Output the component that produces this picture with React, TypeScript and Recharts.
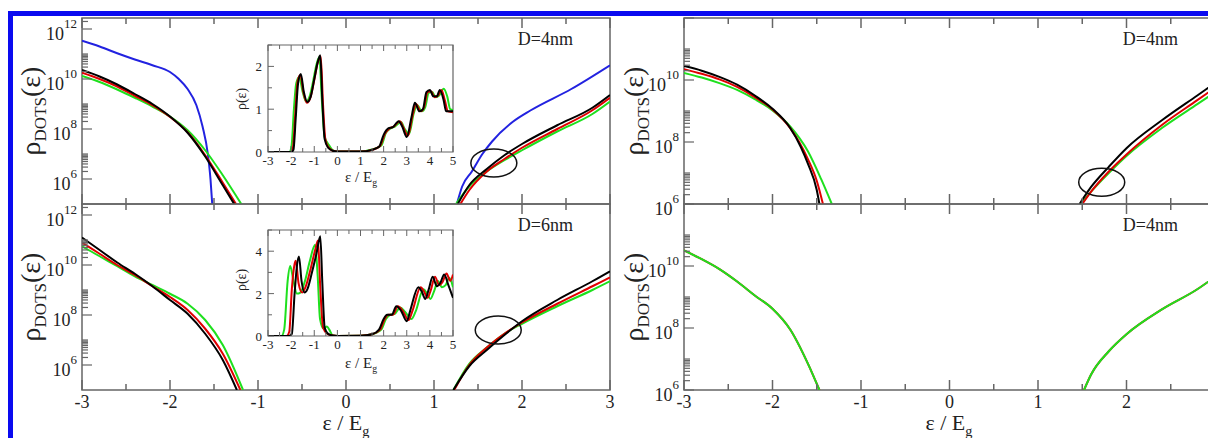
import { LineChart, Line, XAxis, YAxis, ReferenceArea, ReferenceDot } from 'recharts'

const SERIF = '"Liberation Serif", "Times New Roman", serif'
const FRAME = '#666'
const INK = '#222'
const BLACK = '#000000'
const RED = '#e00000'
const GREEN = '#1ee01e'
const BLUE = '#2222e0'

// tick values
const mainXTicks = [-3, -2.5, -2, -1.5, -1, -0.5, 0, 0.5, 1, 1.5, 2, 2.5, 3]
const insetXTicks = [-3, -2.5, -2, -1.5, -1, -0.5, 0, 0.5, 1, 1.5, 2, 2.5, 3, 3.5, 4, 4.5, 5]
const majorExp = [6, 8, 10, 12]
const leftLabeledExp = [6, 8, 10, 12]
const rightLabeledExp = [6, 8, 10]
const insetATicks = [0, 0.5, 1, 1.5, 2, 2.5]
const insetBTicks = [0, 1, 2, 3, 4, 5]

// [ε/Eg, log10 ρ] — top left, D=4nm
const aBlueVal = [[-3, 11.53], [-2.8, 11.3], [-2.6, 11.03], [-2.4, 10.78], [-2.2, 10.55], [-2.0, 10.28], [-1.9, 10.0], [-1.8, 9.6], [-1.7, 8.95], [-1.63, 8.1], [-1.57, 7.0], [-1.54, 6.0], [-1.52, 5.0]]
const aBlackVal = [[-3, 10.36], [-2.8, 10.1], [-2.6, 9.78], [-2.4, 9.4], [-2.2, 9.0], [-2.0, 8.5], [-1.8, 7.85], [-1.6, 6.9], [-1.4, 5.75], [-1.27, 5.0]]
const aRedVal = [[-3, 10.25], [-2.8, 10.0], [-2.6, 9.7], [-2.4, 9.33], [-2.2, 8.95], [-2.0, 8.48], [-1.8, 7.87], [-1.6, 6.95], [-1.4, 5.85], [-1.25, 5.0]]
const aGreenVal = [[-3, 10.12], [-2.8, 9.88], [-2.6, 9.58], [-2.4, 9.25], [-2.2, 8.9], [-2.0, 8.5], [-1.8, 7.95], [-1.6, 7.15], [-1.4, 6.15], [-1.19, 5.0]]
const aBlueCond = [[1.26, 5.0], [1.32, 5.7], [1.43, 6.3], [1.55, 7.0], [1.66, 7.5], [1.9, 8.3], [2.1, 8.75], [2.56, 9.6], [3.0, 10.55]]
const aBlackCond = [[1.27, 5.0], [1.4, 5.75], [1.6, 6.4], [1.8, 6.95], [2.0, 7.4], [2.4, 8.15], [2.8, 8.85], [3.0, 9.36]]
const aRedCond = [[1.3, 5.0], [1.4, 5.55], [1.6, 6.3], [1.8, 6.8], [2.0, 7.25], [2.4, 8.0], [2.8, 8.75], [3.0, 9.25]]
const aGreenCond = [[1.25, 5.0], [1.4, 5.7], [1.6, 6.3], [1.8, 6.75], [2.0, 7.15], [2.4, 7.9], [2.8, 8.6], [3.0, 9.1]]
const aRing = [1.68, 6.64]

// bottom left, D=6nm
const bBlackVal = [[-3, 11.1], [-2.8, 10.6], [-2.6, 10.1], [-2.4, 9.65], [-2.2, 9.15], [-2.0, 8.6], [-1.8, 8.05], [-1.6, 7.25], [-1.4, 6.2], [-1.24, 5.0]]
const bRedVal = [[-3, 10.9], [-2.8, 10.45], [-2.6, 10.0], [-2.4, 9.6], [-2.2, 9.15], [-2.0, 8.72], [-1.8, 8.2], [-1.6, 7.45], [-1.4, 6.45], [-1.2, 5.0]]
const bGreenVal = [[-3, 10.75], [-2.8, 10.35], [-2.6, 9.95], [-2.4, 9.55], [-2.2, 9.2], [-2.0, 8.85], [-1.8, 8.45], [-1.6, 7.8], [-1.4, 6.8], [-1.17, 5.0]]
const bBlackCond = [[1.22, 5.0], [1.4, 5.95], [1.6, 6.6], [1.8, 7.2], [2.0, 7.75], [2.4, 8.6], [2.8, 9.35], [3.0, 9.75]]
const bRedCond = [[1.23, 5.0], [1.4, 6.0], [1.6, 6.7], [1.8, 7.25], [2.0, 7.7], [2.4, 8.45], [2.8, 9.15], [3.0, 9.5]]
const bGreenCond = [[1.22, 5.0], [1.4, 6.05], [1.6, 6.7], [1.8, 7.25], [2.0, 7.65], [2.4, 8.35], [2.8, 9.0], [3.0, 9.35]]
const bRing = [1.73, 7.4]

// top right, D=4nm
const cBlackVal = [[-3, 10.45], [-2.8, 10.3], [-2.6, 10.1], [-2.4, 9.85], [-2.2, 9.5], [-2.0, 9.07], [-1.8, 8.45], [-1.68, 7.84], [-1.6, 7.3], [-1.5, 6.45], [-1.47, 6.0]]
const cRedVal = [[-3, 10.35], [-2.8, 10.2], [-2.6, 10.02], [-2.4, 9.78], [-2.2, 9.45], [-2.0, 9.05], [-1.8, 8.45], [-1.6, 7.45], [-1.5, 6.75], [-1.43, 6.0]]
const cGreenVal = [[-3, 10.23], [-2.8, 10.08], [-2.6, 9.9], [-2.4, 9.68], [-2.2, 9.38], [-2.0, 9.02], [-1.8, 8.5], [-1.6, 7.7], [-1.45, 6.8], [-1.33, 6.0]]
const cBlackCond = [[1.47, 6.0], [1.6, 6.55], [1.8, 7.2], [2.0, 7.8], [2.4, 8.7], [2.8, 9.5], [3.0, 9.9]]
const cRedCond = [[1.5, 6.0], [1.6, 6.4], [1.8, 7.05], [2.0, 7.6], [2.4, 8.55], [2.8, 9.35], [3.0, 9.75]]
const cGreenCond = [[1.48, 6.0], [1.6, 6.4], [1.8, 7.0], [2.0, 7.55], [2.4, 8.45], [2.8, 9.22], [3.0, 9.6]]
const cRing = [1.72, 6.7]

// bottom right, D=4nm (red and green coincide)
const dVal = [[-3, 10.5], [-2.8, 10.22], [-2.6, 9.9], [-2.4, 9.5], [-2.2, 9.05], [-2.0, 8.62], [-1.8, 7.95], [-1.6, 6.85], [-1.47, 6.0]]
const dCond = [[1.52, 6.0], [1.6, 6.5], [1.8, 7.25], [2.0, 7.8], [2.4, 8.6], [2.8, 9.25], [3.0, 9.65]]

// insets [ε/Eg, ρ]
const insetABlack = [[-3, 0], [-2.0, 0], [-1.9, 0.05], [-1.8, 0.8], [-1.7, 1.6], [-1.58, 1.82], [-1.45, 1.4], [-1.3, 1.17], [-1.15, 1.3], [-1.0, 1.7], [-0.85, 2.1], [-0.74, 2.26], [-0.65, 1.2], [-0.55, 0.3], [-0.4, 0.1], [-0.2, 0.03], [0, 0.01], [1, 0.01], [1.5, 0.05], [1.8, 0.12], [2.0, 0.4], [2.2, 0.55], [2.4, 0.58], [2.65, 0.72], [2.8, 0.6], [3.0, 0.35], [3.2, 0.8], [3.35, 1.15], [3.55, 0.95], [3.7, 1.0], [3.85, 1.4], [4.0, 1.45], [4.15, 1.3], [4.3, 1.3], [4.43, 1.45], [4.6, 1.2], [4.7, 0.95], [5.0, 0.95]]
const insetARed = [[-3, 0], [-2.0, 0], [-1.92, 0.1], [-1.82, 0.9], [-1.72, 1.65], [-1.6, 1.8], [-1.47, 1.4], [-1.32, 1.15], [-1.15, 1.3], [-1.0, 1.68], [-0.85, 2.08], [-0.72, 2.24], [-0.62, 1.1], [-0.52, 0.3], [-0.4, 0.12], [-0.2, 0.03], [0, 0.01], [1, 0.01], [1.5, 0.05], [1.85, 0.14], [2.05, 0.42], [2.25, 0.55], [2.45, 0.6], [2.7, 0.72], [2.85, 0.58], [3.05, 0.38], [3.25, 0.85], [3.4, 1.12], [3.6, 0.95], [3.75, 1.05], [3.9, 1.4], [4.05, 1.42], [4.2, 1.28], [4.35, 1.32], [4.5, 1.45], [4.65, 1.2], [4.78, 0.95], [5.0, 0.93]]
const insetAGreen = [[-3, 0], [-2.08, 0], [-1.98, 0.15], [-1.88, 1.0], [-1.78, 1.6], [-1.65, 1.75], [-1.5, 1.4], [-1.35, 1.18], [-1.2, 1.3], [-1.05, 1.65], [-0.9, 2.05], [-0.78, 2.22], [-0.68, 1.3], [-0.55, 0.35], [-0.35, 0.15], [-0.2, 0.04], [0, 0.01], [1, 0.01], [1.5, 0.06], [1.9, 0.15], [2.1, 0.45], [2.3, 0.55], [2.5, 0.6], [2.75, 0.7], [2.9, 0.55], [3.1, 0.42], [3.3, 0.9], [3.45, 1.1], [3.65, 0.95], [3.8, 1.05], [3.95, 1.38], [4.1, 1.4], [4.25, 1.28], [4.4, 1.32], [4.6, 1.48], [4.75, 1.3], [4.88, 1.0], [5.0, 0.98]]

const insetBBlack = [[-3, 0], [-2.1, 0], [-1.97, 0.1], [-1.85, 2.0], [-1.75, 3.3], [-1.66, 3.75], [-1.55, 2.6], [-1.42, 2.05], [-1.3, 2.2], [-1.1, 3.0], [-0.9, 3.9], [-0.74, 4.7], [-0.65, 2.5], [-0.55, 0.4], [-0.4, 0.1], [-0.2, 0.02], [0, 0], [1, 0.01], [1.5, 0.08], [1.8, 0.3], [2.0, 0.8], [2.15, 1.0], [2.35, 1.0], [2.55, 1.4], [2.75, 1.2], [3.0, 0.7], [3.15, 1.2], [3.5, 2.3], [3.65, 2.1], [3.8, 1.75], [3.95, 2.2], [4.12, 2.8], [4.3, 2.35], [4.45, 2.5], [4.62, 2.9], [4.8, 2.4], [5.0, 1.8]]
const insetBRed = [[-3, 0], [-2.2, 0], [-2.08, 0.2], [-1.97, 2.2], [-1.85, 3.4], [-1.8, 3.55], [-1.68, 2.5], [-1.52, 2.05], [-1.38, 2.3], [-1.15, 3.2], [-0.95, 4.1], [-0.84, 4.5], [-0.74, 2.3], [-0.62, 0.4], [-0.45, 0.12], [-0.2, 0.02], [0, 0], [1, 0.01], [1.5, 0.08], [1.85, 0.3], [2.05, 0.8], [2.2, 1.0], [2.4, 1.0], [2.62, 1.4], [2.82, 1.2], [3.08, 0.75], [3.25, 1.2], [3.6, 2.3], [3.75, 2.1], [3.9, 1.8], [4.05, 2.2], [4.22, 2.8], [4.4, 2.4], [4.55, 2.55], [4.72, 2.95], [4.88, 2.6], [5.0, 2.9]]
const insetBGreen = [[-3, 0], [-2.42, 0], [-2.3, 0.3], [-2.15, 2.6], [-2.04, 3.3], [-1.9, 2.6], [-1.75, 2.0], [-1.6, 2.05], [-1.4, 2.6], [-1.2, 3.5], [-0.96, 4.3], [-0.85, 2.8], [-0.75, 0.8], [-0.6, 0.35], [-0.45, 0.45], [-0.35, 0.3], [-0.2, 0.02], [0, 0], [1, 0.01], [1.5, 0.08], [1.9, 0.3], [2.1, 0.8], [2.28, 1.0], [2.48, 1.05], [2.72, 1.35], [2.92, 1.15], [3.2, 0.8], [3.38, 1.15], [3.72, 2.2], [3.88, 2.0], [4.02, 1.75], [4.18, 2.1], [4.35, 2.6], [4.52, 2.3], [4.68, 2.4], [4.84, 2.75], [5.0, 2.3]]

const logPts = (a: number[][]) => a.map(([x, l]) => ({ x, y: 10 ** l }))
const linPts = (a: number[][]) => a.map(([x, y]) => ({ x, y }))

type Curve = { data: { x: number; y: number }[]; color: string }

function MainPanel({ left, top, w, h, lo, hi, labeled, xLabels, xLabelMax = 3, curves, ring }: {
  left: number; top: number; w: number; h: number; lo: number; hi: number
  labeled: number[]; xLabels: boolean; xLabelMax?: number; curves: Curve[]; ring?: number[]
}) {
  const padL = 80, padT = 12, padR = 12, padB = 30
  const yTicks: number[] = []
  majorExp.forEach(n => {
    for (let k = 1; k <= 10; k++) {
      const v = k * 10 ** n
      if (v >= lo * 0.999 && v <= hi) yTicks.push(v)
    }
  })
  const xTick = (p: any) => {
    const v = p.payload.value
    const major = Number.isInteger(v)
    return (
      <g>
        <line x1={p.x} x2={p.x} y1={p.y} y2={p.y - (major ? 10 : 6)} stroke={FRAME} strokeWidth={1.5} />
        {xLabels && major && v <= xLabelMax && (
          <text x={p.x} y={p.y + 18} textAnchor="middle" fontFamily={SERIF} fontSize={18} fill={INK}>{String(v)}</text>
        )}
      </g>
    )
  }
  const topTick = (p: any) => {
    const major = Number.isInteger(p.payload.value)
    return <line x1={p.x} x2={p.x} y1={p.y} y2={p.y + (major ? 10 : 6)} stroke={FRAME} strokeWidth={1.5} />
  }
  const yTick = (p: any) => {
    const e = Math.log10(p.payload.value)
    const r = Math.round(e)
    const major = Math.abs(e - r) < 1e-6 && r % 2 === 0
    return (
      <g>
        <line x1={p.x} x2={p.x + (major ? 10 : 6)} y1={p.y} y2={p.y} stroke={FRAME} strokeWidth={1.2} />
        {major && labeled.includes(r) && (
          <text x={p.x - 5} y={p.y + 11} textAnchor="end" fontFamily={SERIF} fontSize={18} fill={INK}>
            10<tspan fontSize={13} dy={-12}>{r}</tspan>
          </text>
        )}
      </g>
    )
  }
  return (
    <div style={{ position: 'absolute', left: left - padL, top: top - padT }}>
      <LineChart width={w + padL + padR} height={h + padT + padB} margin={{ top: padT - 1, right: padR, bottom: 0, left: 0 }}>
        <XAxis type="number" dataKey="x" domain={[-3, 3]} ticks={mainXTicks} interval={0} height={padB}
          tickSize={0} tickMargin={0} axisLine={false} tick={xTick} allowDataOverflow />
        <XAxis xAxisId="top" orientation="top" type="number" dataKey="x" domain={[-3, 3]} ticks={mainXTicks} interval={0}
          height={1} tickSize={0} tickMargin={0} axisLine={false} tick={topTick} allowDataOverflow />
        <YAxis type="number" scale="log" domain={[lo, hi]} ticks={yTicks} interval={0} width={padL}
          tickSize={0} tickMargin={0} axisLine={false} tick={yTick} allowDataOverflow />
        <ReferenceArea x1={-3} x2={3} y1={lo} y2={hi} fill="none" stroke={FRAME} strokeWidth={1.5} ifOverflow="visible" />
        {curves.map((c, i) => (
          <Line key={i} data={c.data} dataKey="y" type="monotone" stroke={c.color} strokeWidth={2}
            dot={false} isAnimationActive={false} />
        ))}
        {ring && (
          <ReferenceDot x={ring[0]} y={10 ** ring[1]} r={1}
            shape={(p: any) => <ellipse cx={p.cx} cy={p.cy} rx={23} ry={14} fill="none" stroke="#111" strokeWidth={1.5} />} />
        )}
      </LineChart>
    </div>
  )
}

function Inset({ left, top, w, h, yMax, yTicks, labeled, curves }: {
  left: number; top: number; w: number; h: number; yMax: number; yTicks: number[]; labeled: number[]; curves: Curve[]
}) {
  const padL = 30, padT = 8, padR = 8, padB = 20
  const xTick = (p: any) => {
    const v = p.payload.value
    const major = Number.isInteger(v)
    return (
      <g>
        <line x1={p.x} x2={p.x} y1={p.y} y2={p.y - (major ? 6 : 4)} stroke={FRAME} strokeWidth={1} />
        {major && <text x={p.x} y={p.y + 13} textAnchor="middle" fontFamily={SERIF} fontSize={13} fill={INK}>{String(v)}</text>}
      </g>
    )
  }
  const topTick = (p: any) => {
    const major = Number.isInteger(p.payload.value)
    return <line x1={p.x} x2={p.x} y1={p.y} y2={p.y + (major ? 6 : 4)} stroke={FRAME} strokeWidth={1} />
  }
  const yTick = (p: any) => {
    const v = p.payload.value
    const major = labeled.includes(v)
    return (
      <g>
        <line x1={p.x} x2={p.x + (major ? 6 : 4)} y1={p.y} y2={p.y} stroke={FRAME} strokeWidth={1} />
        {major && <text x={p.x - 6} y={p.y + 5} textAnchor="end" fontFamily={SERIF} fontSize={13} fill={INK}>{String(v)}</text>}
      </g>
    )
  }
  return (
    <div style={{ position: 'absolute', left: left - padL, top: top - padT }}>
      <LineChart width={w + padL + padR} height={h + padT + padB} margin={{ top: padT - 1, right: padR, bottom: 0, left: 0 }}>
        <XAxis type="number" dataKey="x" domain={[-3, 5]} ticks={insetXTicks} interval={0} height={padB}
          tickSize={0} tickMargin={0} axisLine={false} tick={xTick} allowDataOverflow />
        <XAxis xAxisId="top" orientation="top" type="number" dataKey="x" domain={[-3, 5]} ticks={insetXTicks} interval={0}
          height={1} tickSize={0} tickMargin={0} axisLine={false} tick={topTick} allowDataOverflow />
        <YAxis type="number" domain={[0, yMax]} ticks={yTicks} interval={0} width={padL}
          tickSize={0} tickMargin={0} axisLine={false} tick={yTick} allowDataOverflow />
        <ReferenceArea x1={-3} x2={5} y1={0} y2={yMax} fill="#fff" fillOpacity={1} stroke={FRAME} strokeWidth={1.2} ifOverflow="visible" />
        {curves.map((c, i) => (
          <Line key={i} data={c.data} dataKey="y" type="monotone" stroke={c.color} strokeWidth={2}
            dot={false} isAnimationActive={false} />
        ))}
      </LineChart>
    </div>
  )
}

function YTitle({ x, y }: { x: number; y: number }) {
  return (
    <text transform={`translate(${x},${y}) rotate(-90)`} textAnchor="middle" fontFamily={SERIF} fontSize={28} fill={INK}>
      ρ<tspan fontSize={17} dy={6}>DOTS</tspan><tspan fontSize={28} dy={-6}>(ε)</tspan>
    </text>
  )
}

function XTitle({ x, y, size }: { x: number; y: number; size: number }) {
  return (
    <text x={x} y={y} textAnchor="middle" fontFamily={SERIF} fontSize={size} fill={INK}>
      ε / E<tspan fontSize={size * 0.65} dy={size * 0.25}>g</tspan>
    </text>
  )
}

export default function App() {
  const leftLo = 1e5, leftHi = 10 ** 12.44
  const rightLo = 1e6, rightHi = 1e12
  return (
    <div style={{ position: 'fixed', left: 0, top: 0, width: 1208, height: 438, overflow: 'hidden', background: '#fff' }}>
      <MainPanel left={82} top={18} w={528} h={186} lo={leftLo} hi={leftHi} labeled={leftLabeledExp} xLabels={false}
        curves={[
          { data: logPts(aBlueVal), color: BLUE }, { data: logPts(aBlueCond), color: BLUE },
          { data: logPts(aGreenVal), color: GREEN }, { data: logPts(aGreenCond), color: GREEN },
          { data: logPts(aRedVal), color: RED }, { data: logPts(aRedCond), color: RED },
          { data: logPts(aBlackVal), color: BLACK }, { data: logPts(aBlackCond), color: BLACK },
        ]} ring={aRing} />
      <MainPanel left={82} top={204} w={528} h={186} lo={leftLo} hi={leftHi} labeled={leftLabeledExp} xLabels
        curves={[
          { data: logPts(bGreenVal), color: GREEN }, { data: logPts(bGreenCond), color: GREEN },
          { data: logPts(bRedVal), color: RED }, { data: logPts(bRedCond), color: RED },
          { data: logPts(bBlackVal), color: BLACK }, { data: logPts(bBlackCond), color: BLACK },
        ]} ring={bRing} />
      <MainPanel left={684} top={18} w={531} h={186} lo={rightLo} hi={rightHi} labeled={rightLabeledExp} xLabels={false}
        curves={[
          { data: logPts(cGreenVal), color: GREEN }, { data: logPts(cGreenCond), color: GREEN },
          { data: logPts(cRedVal), color: RED }, { data: logPts(cRedCond), color: RED },
          { data: logPts(cBlackVal), color: BLACK }, { data: logPts(cBlackCond), color: BLACK },
        ]} ring={cRing} />
      <MainPanel left={684} top={204} w={531} h={186} lo={rightLo} hi={rightHi} labeled={rightLabeledExp} xLabels xLabelMax={2}
        curves={[
          { data: logPts(dVal), color: RED }, { data: logPts(dCond), color: RED },
          { data: logPts(dVal), color: GREEN }, { data: logPts(dCond), color: GREEN },
        ]} />
      <Inset left={268} top={45} w={185} h={107} yMax={2.5} yTicks={insetATicks} labeled={[0, 1, 2]}
        curves={[
          { data: linPts(insetAGreen), color: GREEN }, { data: linPts(insetARed), color: RED },
          { data: linPts(insetABlack), color: BLACK },
        ]} />
      <Inset left={268} top={230} w={185} h={106} yMax={5} yTicks={insetBTicks} labeled={[0, 2, 4]}
        curves={[
          { data: linPts(insetBGreen), color: GREEN }, { data: linPts(insetBRed), color: RED },
          { data: linPts(insetBBlack), color: BLACK },
        ]} />
      <svg width={1208} height={438} style={{ position: 'absolute', left: 0, top: 0, pointerEvents: 'none' }}>
        <rect x={8} y={11} width={1200} height={5} fill="#0a0af0" />
        <rect x={8} y={11} width={5} height={427} fill="#0a0af0" />
        <YTitle x={40} y={111} />
        <YTitle x={40} y={297} />
        <YTitle x={643} y={111} />
        <YTitle x={643} y={297} />
        <XTitle x={346} y={430} size={22} />
        <XTitle x={949} y={430} size={22} />
        <XTitle x={361} y={182} size={15} />
        <XTitle x={361} y={368} size={15} />
        <text transform="translate(246,99) rotate(-90)" textAnchor="middle" fontFamily={SERIF} fontSize={14} fill={INK}>ρ(ε)</text>
        <text transform="translate(246,280) rotate(-90)" textAnchor="middle" fontFamily={SERIF} fontSize={14} fill={INK}>ρ(ε)</text>
        <text x={573} y={45} textAnchor="end" fontFamily={SERIF} fontSize={18} fill={INK}>D=4nm</text>
        <text x={573} y={231} textAnchor="end" fontFamily={SERIF} fontSize={18} fill={INK}>D=6nm</text>
        <text x={1178} y={45} textAnchor="end" fontFamily={SERIF} fontSize={18} fill={INK}>D=4nm</text>
        <text x={1178} y={231} textAnchor="end" fontFamily={SERIF} fontSize={18} fill={INK}>D=4nm</text>
      </svg>
    </div>
  )
}
